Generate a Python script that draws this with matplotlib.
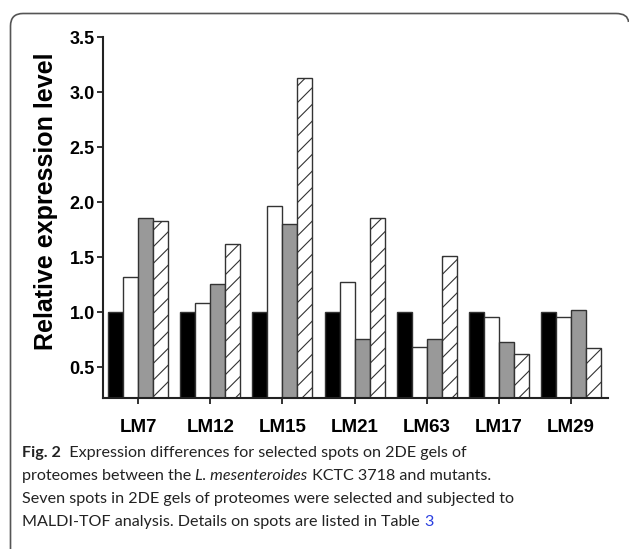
"""Fig. 2: expression differences for selected spots on 2DE gels (grouped bars)."""
import numpy as np
import matplotlib
matplotlib.use("Agg")
import matplotlib.pyplot as plt
from matplotlib.path import Path
from matplotlib.patches import PathPatch

# date
spoturi = ["LM7", "LM12", "LM15", "LM21", "LM63", "LM17", "LM29"]
tip_salbatic = [1.0, 1.0, 1.0, 1.0, 1.0, 1.0, 1.0]
mutant_1 = [1.32, 1.08, 1.96, 1.27, 0.68, 0.96, 0.96]
mutant_2 = [1.86, 1.26, 1.80, 0.76, 0.76, 0.73, 1.02]
mutant_3 = [1.83, 1.62, 3.13, 1.86, 1.51, 0.62, 0.67]
yticks = [0.5, 1.0, 1.5, 2.0, 2.5, 3.0, 3.5]

W, H = 629, 549
plt.rcParams["hatch.color"] = "#333333"
plt.rcParams["hatch.linewidth"] = 0.8

fig = plt.figure(figsize=(W / 100, H / 100), dpi=100)
ax = fig.add_axes([103 / W, 1 - 398 / H, 505 / W, 361 / H])

x = np.arange(len(spoturi))
lat = 0.208
serii = [
    (tip_salbatic, "black", None),
    (mutant_1, "white", None),
    (mutant_2, "#999999", None),
    (mutant_3, "white", "//"),
]
for k, (val, culoare, hasura) in enumerate(serii):
    ax.bar(x + (k - 1.5) * lat, val, width=lat, bottom=0,
           color=culoare, edgecolor="#333333", linewidth=1.0, hatch=hasura)

ax.set_ylim(0.22, 3.5)
ax.set_xlim(-0.485, 6.51)
ax.set_yticks(yticks)
ax.set_yticklabels([f"{v:.1f}" for v in yticks], fontfamily="Liberation Sans",
                   fontweight="bold", fontsize=13)
ax.set_xticks(x)
ax.set_xticklabels(spoturi, fontfamily="Liberation Sans", fontweight="bold", fontsize=13.5)
ax.tick_params(axis="both", direction="out", length=4, width=1.3, color="#222222")
ax.tick_params(axis="x", pad=11)
ax.tick_params(axis="y", pad=2)
for s in ["top", "right"]:
    ax.spines[s].set_visible(False)
for s in ["left", "bottom"]:
    ax.spines[s].set_linewidth(1.5)
    ax.spines[s].set_color("#222222")
ax.set_ylabel("Relative expression level", fontfamily="Liberation Sans",
              fontweight="bold", fontsize=18)
ax.yaxis.set_label_coords(-0.089, 0.546)

# chenar rotunjit, deschis jos
def px(xp, yp):
    return (xp / W, 1 - yp / H)

verts = [px(10.5, 549), px(10.5, 26), px(10.5, 13.5), px(23, 13.5),
         px(616, 13.5), px(628, 13.5), px(628.5, 22)]
codes = [Path.MOVETO, Path.LINETO, Path.CURVE3, Path.CURVE3,
         Path.LINETO, Path.CURVE3, Path.CURVE3]
fig.patches.append(PathPatch(Path(verts, codes), transform=fig.transFigure,
                             fill=False, edgecolor="#555555", linewidth=1.2))

# legenda figurii, compusa din bucati
renderer = fig.canvas.get_renderer()
FONT = "Lato"
FS = 11.6


def linie(bucati, y_px, x_px=22):
    xc = x_px
    for txt, opt in bucati:
        t = fig.text(xc / W, 1 - y_px / H, txt, fontfamily=FONT, fontsize=FS,
                     va="baseline", ha="left", color=opt.get("color", "#222222"),
                     fontweight=opt.get("weight", "normal"),
                     fontstyle=opt.get("style", "normal"))
        xc += t.get_window_extent(renderer).width


linie([("Fig. 2", {"weight": "bold"}),
       ("  Expression differences for selected spots on 2DE gels of", {})], 457)
linie([("proteomes between the ", {}), ("L. mesenteroides", {"style": "italic"}),
       (" KCTC 3718 and mutants.", {})], 480)
linie([("Seven spots in 2DE gels of proteomes were selected and subjected to", {})], 503)
linie([("MALDI-TOF analysis. Details on spots are listed in Table ", {}),
       ("3", {"color": "#2a3fe0"})], 526)

fig.savefig("out.png", dpi=100)
